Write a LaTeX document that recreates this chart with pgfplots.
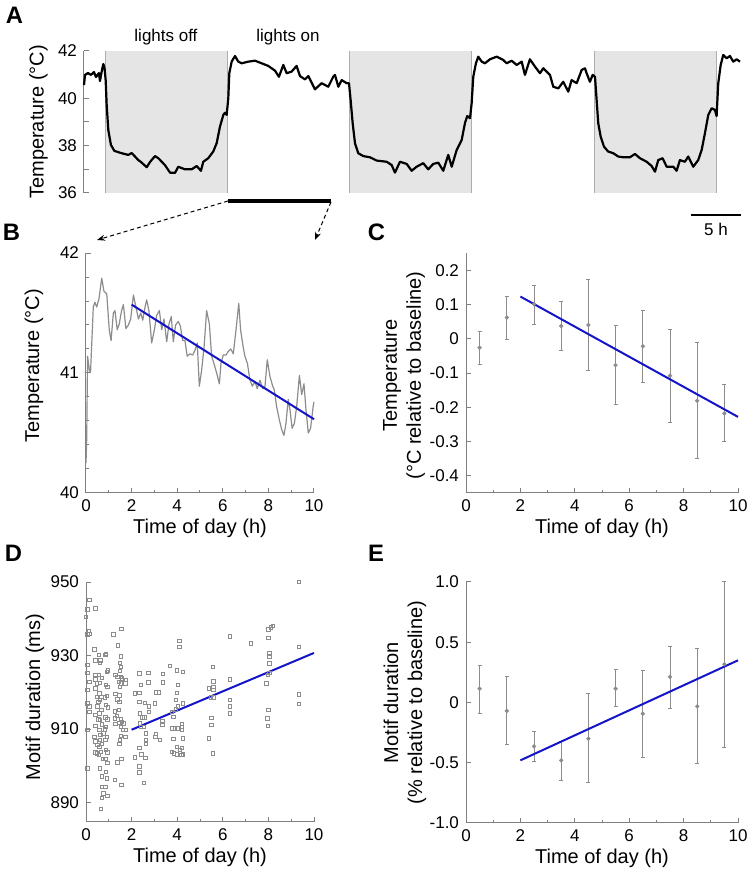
\documentclass[border=0pt]{standalone}
\usepackage{fontspec}
\setmainfont{Liberation Sans}
\usepackage{pgfplots}
\pgfplotsset{compat=1.18}
\usetikzlibrary{arrows.meta}
\definecolor{axgray}{gray}{0.5}
\definecolor{trgray}{gray}{0.55}
\definecolor{shade}{gray}{0.9}
\definecolor{shedge}{gray}{0.68}
\definecolor{fitblue}{RGB}{20,20,200}
\newcommand\fs{\fontsize{8.5}{9.4}\selectfont}
\newcommand\plab[1]{{\fontsize{11.9}{12}\selectfont\bfseries #1}}
\pgfplotsset{
  panel/.style={
    scale only axis,
    axis lines*=left,
    axis line style={draw=axgray, line width=0.5pt},
    tick style={draw=axgray, line width=0.5pt},
    tick align=inside,
    major tick length=2.6pt,
    minor tick length=1.6pt,
    tick pos=left,
    tick label style={font=\fs},
    label style={font=\fs},
    /pgf/number format/assume math mode=true,
    every axis x label/.style={at={(axis description cs:0.5,-0.146)}, anchor=center},
    every axis y label/.style={at={(axis description cs:-0.228,0.5)}, rotate=90, anchor=center, align=center},
    xmin=0, xmax=10, xtick={0,2,...,10}, minor xtick={1,3,5,7,9},
    xlabel={Time of day (h)},
    clip=false,
  },
  errpts/.style={only marks, mark=*, mark size=0.85pt, color=trgray,
    error bars/.cd, y dir=both, y explicit,
    error bar style={line width=0.5pt, trgray},
    error mark options={rotate=90, mark size=1pt, line width=0.5pt, trgray}},
}
\begin{document}
\begin{tikzpicture}
\useasboundingbox (0,0) rectangle (375.5pt,434.5pt);

% ---------------- Panel A ----------------
\begin{axis}[
  at={(42pt,338pt)}, anchor=south west,
  scale only axis, width=330.5pt, height=71pt,
  xmin=0, xmax=65, ymin=36, ymax=42,
  axis x line=none, axis y line*=left,
  axis line style={draw=axgray, line width=0.5pt},
  tick style={draw=axgray, line width=0.5pt},
  tick align=inside, major tick length=2.6pt, minor tick length=2.6pt,
  ytick={36,38,40,42}, minor ytick={37,39,41},
  tick label style={font=\fs}, label style={font=\fs},
  /pgf/number format/assume math mode=true,
  ylabel={Temperature (°C)},
  every axis y label/.style={at={(axis description cs:-0.069,0.5)}, rotate=90, anchor=center},
  clip=false]
\addplot[fill=shade, draw=none] coordinates {(2.13,36) (14.13,36) (14.13,42) (2.13,42)};
\addplot[fill=shade, draw=none] coordinates {(26.1,36) (38.15,36) (38.15,42) (26.1,42)};
\addplot[fill=shade, draw=none] coordinates {(50.17,36) (62.2,36) (62.2,42) (50.17,42)};
\addplot[shedge, line width=0.5pt] coordinates {(2.13,36) (2.13,42)};
\addplot[shedge, line width=0.5pt] coordinates {(14.13,36) (14.13,42)};
\addplot[shedge, line width=0.5pt] coordinates {(26.1,36) (26.1,42)};
\addplot[shedge, line width=0.5pt] coordinates {(38.15,36) (38.15,42)};
\addplot[shedge, line width=0.5pt] coordinates {(50.17,36) (50.17,42)};
\addplot[shedge, line width=0.5pt] coordinates {(62.2,36) (62.2,42)};
\addplot[black, line width=1.1pt, line join=round] coordinates {
(0.00,40.56) (0.10,40.99) (0.39,41.07) (0.69,40.99) (0.98,41.11) (1.18,40.90)
(1.47,41.07) (1.57,40.73) (1.77,41.20) (1.90,41.45) (2.02,41.28) (2.13,40.77)
(2.23,39.72) (2.39,38.66) (2.65,38.03) (2.98,37.78) (3.71,37.68) (4.36,37.61)
(4.69,37.69) (5.34,37.39) (5.60,37.31) (6.17,37.09) (6.49,37.31) (6.98,37.56)
(7.31,37.47) (7.96,37.18) (8.46,36.86) (8.95,36.85) (9.27,37.11) (9.93,37.00)
(10.59,37.00) (11.08,37.14) (11.50,36.94) (11.73,37.32) (12.22,37.47) (12.71,37.75)
(13.05,38.11) (13.37,38.80) (13.70,39.30) (13.86,39.39) (14.03,39.30) (14.19,40.00)
(14.29,41.06) (14.52,41.55) (14.85,41.79) (15.17,41.55) (15.51,41.48) (16.16,41.55)
(16.81,41.59) (17.47,41.48) (18.12,41.37) (18.78,41.17) (19.17,40.91) (19.60,41.41)
(19.93,41.06) (20.42,41.13) (20.91,41.37) (21.24,40.94) (21.73,40.80) (22.06,40.94)
(22.71,40.38) (23.37,40.64) (24.02,40.49) (24.51,40.91) (24.68,40.99) (25.01,40.49)
(25.34,40.77) (25.83,40.64) (26.06,40.64) (26.22,39.93) (26.42,38.95) (26.65,38.10)
(26.97,37.68) (27.46,37.56) (28.12,37.51) (28.78,37.37) (29.76,37.32) (30.26,37.18)
(30.58,36.86) (31.07,37.32) (31.73,37.23) (32.22,36.94) (32.71,37.11) (33.36,37.26)
(33.85,37.00) (34.35,37.23) (34.84,37.28) (35.33,36.94) (35.82,37.61) (36.16,37.11)
(36.65,37.82) (37.14,38.24) (37.46,38.95) (37.69,39.25) (37.96,39.16) (38.12,39.79)
(38.28,40.91) (38.54,41.48) (38.77,41.76) (39.11,41.55) (39.43,41.48) (39.92,41.65)
(40.58,41.76) (41.23,41.62) (41.56,41.48) (42.05,41.59) (42.55,41.41) (43.04,41.55)
(43.36,40.99) (43.85,41.65) (44.35,41.34) (44.84,41.06) (45.16,41.27) (45.82,40.99)
(46.15,40.49) (46.64,40.42) (47.13,40.70) (47.62,40.28) (47.95,40.77) (48.45,40.64)
(48.94,41.20) (49.26,41.27) (49.43,41.06) (49.75,40.70) (50.02,40.99) (50.25,40.91)
(50.41,39.93) (50.57,38.95) (50.81,38.38) (51.13,37.96) (51.55,37.75) (52.05,37.68)
(52.54,37.54) (53.03,37.51) (53.69,37.51) (54.18,37.65) (54.67,37.47) (55.33,37.32)
(55.82,37.14) (56.15,36.90) (56.47,37.39) (56.90,37.47) (57.30,37.11) (57.95,37.11)
(58.28,36.94) (58.60,37.39) (59.09,37.32) (59.42,37.54) (59.91,37.11) (60.40,37.39)
(60.74,37.82) (61.06,38.52) (61.39,39.30) (61.72,39.58) (62.04,39.51) (62.21,39.25)
(62.37,40.63) (62.61,41.41) (62.86,41.83) (63.20,41.69) (63.52,41.79) (63.85,41.55)
(64.18,41.65) (64.51,41.55)
};
\addplot[black, line width=1.7pt] coordinates {(14.2,35.66) (24.25,35.66)};
\addplot[black, line width=0.8pt] coordinates {(59.69,35.07) (64.6,35.07)};
\node[font=\fs] at (axis cs:62.15,34.48) {5 h};
\node[font=\fs] at (axis cs:8.06,42.60) {lights off};
\node[font=\fs] at (axis cs:20.06,42.60) {lights on};
\end{axis}

% ---------------- Panel B ----------------
\begin{axis}[panel,
  at={(43pt,188pt)}, anchor=south west, width=114pt, height=120pt,
  ymin=40, ymax=42, ytick={40,41,42}, minor y tick num=4,
  ylabel={Temperature (°C)},
  every axis y label/.style={at={(axis description cs:-0.228,0.53)}, rotate=90, anchor=center}]
\addplot[trgray, line width=0.6pt, line join=round] coordinates {
(0.00,40.25) (0.03,40.44) (0.07,41.14) (0.15,41.02) (0.20,41.01) (0.32,41.55)
(0.39,41.59) (0.47,41.55) (0.57,41.62) (0.69,41.79) (0.79,41.68) (0.91,41.66)
(1.02,41.36) (1.10,41.27) (1.20,41.50) (1.27,41.52) (1.37,41.36) (1.46,41.41)
(1.56,41.52) (1.64,41.57) (1.75,41.37) (1.86,41.40) (1.96,41.45) (2.08,41.65)
(2.19,41.55) (2.30,41.45) (2.40,41.50) (2.49,41.44) (2.59,41.55) (2.66,41.61)
(2.76,41.52) (2.88,41.25) (3.00,41.36) (3.10,41.48) (3.22,41.52) (3.32,41.36)
(3.42,41.45) (3.54,41.26) (3.64,41.41) (3.74,41.47) (3.83,41.26) (3.93,41.40)
(4.05,41.43) (4.14,41.39) (4.24,41.27) (4.34,41.27) (4.44,41.14) (4.56,41.16)
(4.68,41.15) (4.78,41.19) (4.88,41.25) (4.97,40.89) (5.07,41.02) (5.18,41.22)
(5.29,41.52) (5.41,41.41) (5.51,41.14) (5.61,41.08) (5.73,41.00) (5.85,40.91)
(5.92,41.08) (6.02,41.15) (6.14,41.15) (6.24,41.18) (6.35,41.20) (6.46,41.16)
(6.58,41.36) (6.70,41.58) (6.78,41.36) (6.89,41.22) (6.97,41.14) (7.08,41.08)
(7.19,40.94) (7.30,40.89) (7.41,40.93) (7.51,40.87) (7.63,40.94) (7.75,40.87)
(7.85,40.89) (7.95,41.11) (8.07,40.97) (8.19,40.89) (8.26,40.86) (8.36,40.72)
(8.48,40.61) (8.58,40.53) (8.68,40.48) (8.77,40.58) (8.87,40.78) (8.95,40.69)
(9.04,40.54) (9.14,40.58) (9.24,40.72) (9.36,40.98) (9.46,40.82) (9.56,40.91)
(9.65,40.69) (9.75,40.50) (9.85,40.54) (9.97,40.73) (10.00,40.76)
};
\addplot[fitblue, line width=1pt] coordinates {(2,41.57) (10,40.615)};
\end{axis}

% ---------------- Panel C ----------------
\begin{axis}[panel,
  at={(233pt,188pt)}, anchor=south west, width=136pt, height=120pt,
  ymin=-0.45, ymax=0.25,
  ytick={-0.4,-0.3,-0.2,-0.1,0,0.1,0.2},
  yticklabels={-0.4,-0.3,-0.2,-0.1,0,0.1,0.2},
  ylabel={Temperature\\(°C relative to baseline)},
  every axis y label/.style={at={(axis description cs:-0.228,0.49)}, rotate=90, anchor=center, align=center}]
\addplot[errpts] coordinates {
(0.5,-0.026) += (0,0.046) -= (0,0.048)
(1.5,0.062) += (0,0.062) -= (0,0.064)
(2.5,0.101) += (0,0.055) -= (0,0.060)
(3.5,0.037) += (0,0.073) -= (0,0.070)
(4.5,0.040) += (0,0.134) -= (0,0.134)
(5.5,-0.077) += (0,0.115) -= (0,0.115)
(6.5,-0.022) += (0,0.104) -= (0,0.107)
(7.5,-0.108) += (0,0.135) -= (0,0.137)
(8.5,-0.181) += (0,0.169) -= (0,0.169)
(9.5,-0.218) += (0,0.084) -= (0,0.082)
};
\addplot[fitblue, line width=1pt] coordinates {(2,0.123) (10,-0.228)};
\end{axis}

% ---------------- Panel D ----------------
\begin{axis}[panel,
  at={(43pt,23.5pt)}, anchor=south west, width=114pt, height=120pt,
  ymin=884.7, ymax=950, ytick={890,910,930,950},
  ylabel={Motif duration (ms)},
  every axis y label/.style={at={(axis description cs:-0.224,0.52)}, rotate=90, anchor=center}]
\addplot[only marks, mark=square, mark size=0.85pt, color=trgray, mark options={line width=0.4pt}] coordinates {
(0.15,945.2) (0.06,942.5) (0.41,942.8) (0.12,936.7) (0.15,935.9) (0.06,935.7) (0.06,927.4) (0.06,925.3)
(0.15,922.8) (0.06,920.6) (0.06,917.0) (0.15,916.1) (0.15,914.7) (0.06,909.7) (0.06,899.3) (0.0,940.5)
(0.37,931.7) (0.42,928.7) (0.41,924.7) (0.41,923.5) (0.47,922.4) (0.41,921.0) (0.47,918.8) (0.54,917.4)
(0.50,916.1) (0.42,913.8) (0.54,912.6) (0.41,910.8) (0.37,907.9) (0.41,906.6) (0.50,905.7) (0.47,903.4)
(0.41,903.6) (0.57,930.1) (0.64,928.7) (0.61,928.0) (0.57,924.8) (0.69,923.9) (0.61,922.6) (0.58,919.7)
(0.67,918.8) (0.61,917.9) (0.67,915.2) (0.58,914.3) (0.61,912.4) (0.70,911.3) (0.58,909.7) (0.76,908.8)
(0.64,908.4) (0.61,907.0) (0.70,905.9) (0.58,905.2) (0.66,903.8) (0.57,902.9) (0.73,901.8) (0.61,899.3)
(0.69,897.1) (0.70,894.3) (0.76,892.5) (0.70,891.2) (0.66,888.2)
(0.85,930.1) (0.88,930.5) (0.91,925.6) (0.95,926.0) (0.88,922.0) (0.94,921.5) (0.91,919.0) (0.83,918.6)
(0.88,916.5) (0.95,915.9) (0.85,913.2) (0.94,912.6) (0.88,910.6) (0.82,909.9) (0.91,907.9) (0.85,907.0)
(0.88,904.3) (0.94,903.6) (0.85,901.8) (0.94,900.7) (0.88,898.4) (0.91,896.6) (0.85,894.3) (0.94,891.8)
(1.20,935.7) (1.40,932.8) (1.29,924.7) (1.37,924.2) (1.43,922.8) (1.29,919.5) (1.46,919.2) (1.37,918.1)
(1.46,917.4) (1.26,914.8) (1.43,915.2) (1.26,912.9) (1.35,913.5) (1.29,911.4) (1.46,911.7) (1.37,900.9)
(1.55,901.8) (1.26,896.2)
(1.55,937.3) (1.54,929.8) (1.49,928.0) (1.52,926.9) (1.49,925.8) (1.52,924.2) (1.58,923.8) (1.54,922.4)
(1.49,921.5) (1.52,912.6) (1.58,912.0) (1.52,910.6) (1.61,909.7) (1.52,908.1) (1.49,907.0) (1.46,905.9)
(1.55,894.8) (1.75,923.3) (1.73,922.4) (1.75,909.7) (1.73,907.9) (1.67,911.5)
(2.15,919.7) (2.34,919.9) (2.34,917.4) (2.15,902.3) (2.34,925.1) (2.40,922.0) (2.37,914.3) (2.37,911.5)
(2.41,910.6) (2.34,904.8) (2.34,899.8) (2.34,898.2) (2.43,903.1) (2.47,913.2) (2.57,913.2) (2.54,910.6)
(2.59,917.1) (2.62,908.8) (2.62,907.0) (2.62,905.9) (2.54,895.4) (2.60,902.2) (2.73,925.3) (2.73,922.7)
(2.75,916.1) (2.75,914.7) (3.03,917.0) (3.07,920.0) (3.19,920.0) (3.07,908.6) (3.04,907.9) (3.25,907.0)
(3.36,925.0) (3.36,922.7) (3.35,912.2) (3.35,911.1) (3.68,927.2) (3.77,914.6) (3.83,913.3) (3.77,910.2)
(3.90,910.2) (3.83,907.3) (3.77,903.8) (3.86,903.4) (3.95,917.9) (3.95,915.3) (3.98,926.0) (4.09,934.0)
(4.09,932.4) (4.02,922.0) (3.98,919.9) (4.02,916.1) (4.01,910.2) (3.98,905.2) (3.98,903.1) (4.12,904.3)
(4.20,904.8) (4.18,903.0) (4.20,911.4) (4.20,910.5) (4.21,909.7) (4.24,925.6) (4.24,917.0) (4.24,907.5)
(4.24,903.1)
(5.39,907.5) (5.39,921.0) (5.56,926.9) (5.58,923.0) (5.58,921.5) (5.58,920.6) (5.50,913.1) (5.50,911.1)
(5.58,918.6) (5.47,918.6) (5.56,903.4)
(6.32,935.2) (6.32,923.5) (6.32,917.9) (6.32,916.2) (6.32,914.3)
(7.22,933.3)
(8.00,937.1) (8.00,934.8) (8.10,937.6) (8.19,938.0) (8.04,930.7) (8.04,929.6) (8.04,927.8) (7.98,924.7)
(8.04,925.3) (7.92,922.4) (8.00,915.2) (7.95,912.9) (7.98,910.8)
(9.33,950.0) (9.33,932.4) (9.33,919.4) (9.33,916.8)
};
\addplot[fitblue, line width=1pt] coordinates {(2,909.8) (10,930.7)};
\end{axis}

% ---------------- Panel E ----------------
\begin{axis}[panel,
  at={(233pt,23pt)}, anchor=south west, width=136pt, height=120.5pt,
  ymin=-1, ymax=1,
  ytick={-1,-0.5,0,0.5,1},
  yticklabels={-1.0,-0.5,0,0.5,1.0},
  ylabel={Motif duration\\(\% relative to baseline)},
  every axis y label/.style={at={(axis description cs:-0.224,0.5)}, rotate=90, anchor=center, align=center}]
\addplot[errpts] coordinates {
(0.5,0.115) += (0,0.193) -= (0,0.208)
(1.5,-0.070) += (0,0.282) -= (0,0.280)
(2.5,-0.364) += (0,0.125) -= (0,0.124)
(3.5,-0.480) += (0,0.160) -= (0,0.171)
(4.5,-0.300) += (0,0.373) -= (0,0.365)
(5.5,0.115) += (0,0.157) -= (0,0.152)
(6.5,-0.093) += (0,0.360) -= (0,0.367)
(7.5,0.212) += (0,0.249) -= (0,0.258)
(8.5,-0.032) += (0,0.484) -= (0,0.476)
(9.5,0.317) += (0,0.683) -= (0,0.687)
};
\addplot[fitblue, line width=1pt] coordinates {(2,-0.48) (10,0.35)};
\end{axis}

% annotations
\draw[black, line width=0.5pt, dash pattern=on 2pt off 1.5pt, -{Stealth[length=4pt,width=3pt]}] (114pt,334pt) -- (48.5pt,314.5pt);
\draw[black, line width=0.5pt, dash pattern=on 2pt off 1.5pt, -{Stealth[length=4pt,width=3pt]}] (165.5pt,333.5pt) -- (157.5pt,314.5pt);
\node at (7.2pt,426.75pt) {\plab{A}};
\node at (5.75pt,318.25pt) {\plab{B}};
\node at (188.25pt,318.25pt) {\plab{C}};
\node at (6.75pt,157.75pt) {\plab{D}};
\node at (188pt,157.75pt) {\plab{E}};
\end{tikzpicture}
\end{document}
